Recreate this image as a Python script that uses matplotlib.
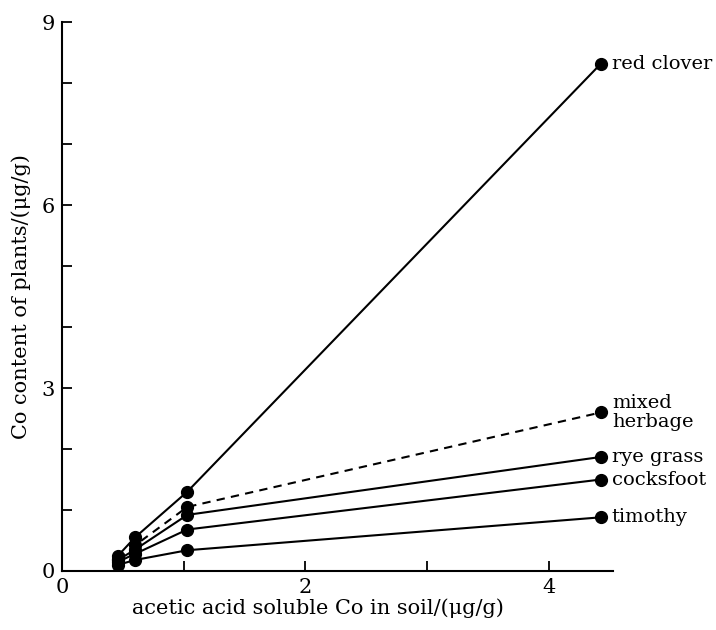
import matplotlib
matplotlib.use('Agg')
import matplotlib.pyplot as plt
import numpy as np

plt.rcParams['font.family'] = 'DejaVu Serif'
f_size = 15

# soil Co (acetic acid soluble), ug/g
soil_co = [0.46, 0.60, 1.03, 4.43]

# plant Co content, ug/g
red_clover = [0.25, 0.55, 1.30, 8.32]
mixed_herbage = [0.20, 0.42, 1.05, 2.60]
rye_grass = [0.18, 0.35, 0.92, 1.87]
cocksfoot = [0.15, 0.28, 0.68, 1.50]
timothy = [0.10, 0.18, 0.34, 0.88]

names = ['red clover', 'mixed\nherbage', 'rye grass', 'cocksfoot', 'timothy']
series = [red_clover, mixed_herbage, rye_grass, cocksfoot, timothy]
styles = ['-', '--', '-', '-', '-']

fig = plt.figure(figsize=(7.16, 6.3), dpi=100)
ax = fig.add_axes([0.0866, 0.0937, 0.7696, 0.871])

for vals, name, ls in zip(series, names, styles):
    ax.plot(soil_co, vals, color='black', linestyle=ls, linewidth=1.5,
            marker='o', markersize=8.5, dashes=(4, 3) if ls == '--' else (None, None))
    ax.text(soil_co[-1] + 0.09, vals[-1], name, fontsize=14, va='center',
            ha='left', linespacing=1.1)

ax.set_xlim(0, 4.53)
ax.set_ylim(0, 9)
ax.spines['top'].set_visible(False)
ax.spines['right'].set_visible(False)
ax.spines['left'].set_linewidth(1.5)
ax.spines['bottom'].set_linewidth(1.5)

ax.set_xticks([0, 1, 2, 3, 4])
ax.set_xticklabels(['0', '', '2', '', '4'])
ax.set_yticks(range(10))
ax.set_yticklabels(['0', '', '', '3', '', '', '6', '', '', '9'])
ax.tick_params(direction='in', length=7, width=1.3, labelsize=f_size, pad=5)

ax.set_xlabel('acetic acid soluble Co in soil/(μg/g)', fontsize=f_size)
ax.set_ylabel('Co content of plants/(μg/g)', fontsize=f_size, labelpad=8)
ax.xaxis.set_label_coords(0.465, -0.05)

fig.savefig('out.png', dpi=100)
